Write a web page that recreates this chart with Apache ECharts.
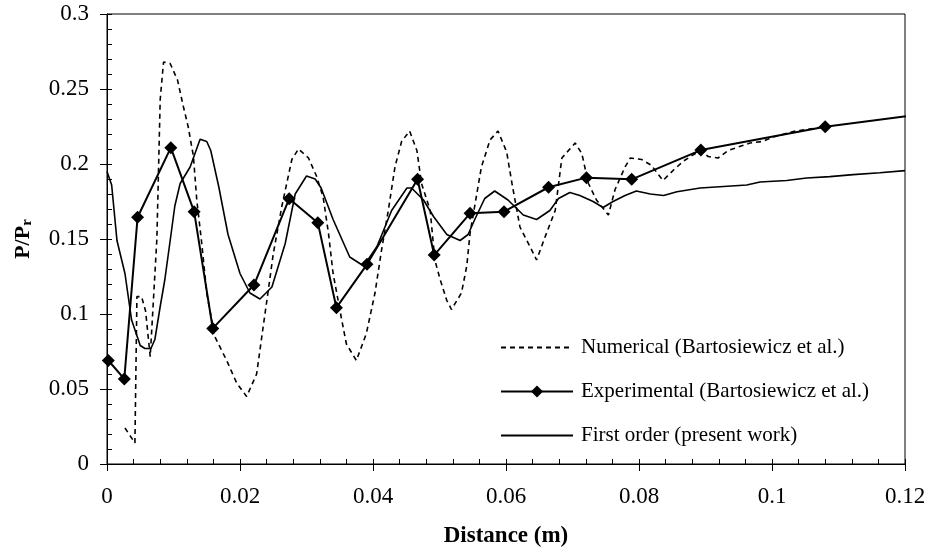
<!DOCTYPE html>
<html>
<head>
<meta charset="utf-8">
<script src="https://cdn.jsdelivr.net/npm/echarts@6/dist/echarts.min.js"></script>
<style>
    html, body { margin: 0; padding: 0; background: #fff; }
    #chart { width: 930px; height: 558px; }
</style>
</head>
<body>
<div id="chart"></div>
<script>
// numerical (Bartosiewicz et al.) - [distance, P/Pr]
var numerical = [
    [0.0027, 0.024], [0.0042, 0.014], [0.0045, 0.1116], [0.0052, 0.1116], [0.0058, 0.102],
    [0.0065, 0.0716], [0.0075, 0.15], [0.0080, 0.243], [0.0085, 0.268], [0.0095, 0.267],
    [0.0106, 0.256], [0.0115, 0.238], [0.0122, 0.225], [0.0130, 0.205], [0.0135, 0.176],
    [0.0142, 0.149], [0.0150, 0.114], [0.0162, 0.085], [0.0180, 0.069], [0.0195, 0.054],
    [0.0210, 0.045], [0.0225, 0.060], [0.0235, 0.092], [0.0242, 0.114], [0.0250, 0.140],
    [0.0263, 0.172], [0.0278, 0.203], [0.0288, 0.210], [0.0303, 0.204], [0.0315, 0.192],
    [0.0325, 0.178], [0.0333, 0.154], [0.0340, 0.127], [0.0353, 0.096], [0.0360, 0.080],
    [0.0375, 0.069], [0.0390, 0.087], [0.0403, 0.114], [0.0413, 0.143], [0.0423, 0.169],
    [0.0433, 0.198], [0.0443, 0.215], [0.0455, 0.222], [0.0466, 0.209], [0.0473, 0.187],
    [0.0486, 0.169], [0.0493, 0.136], [0.0501, 0.123], [0.0511, 0.109], [0.0518, 0.103],
    [0.0533, 0.114], [0.0541, 0.132], [0.0546, 0.154], [0.0563, 0.198], [0.0576, 0.216],
    [0.0588, 0.222], [0.0601, 0.208], [0.0609, 0.187], [0.0621, 0.158], [0.0636, 0.145],
    [0.0646, 0.136], [0.0661, 0.154], [0.0674, 0.169], [0.0684, 0.204], [0.0704, 0.214],
    [0.0714, 0.207], [0.0724, 0.187], [0.0736, 0.176], [0.0754, 0.166], [0.0764, 0.183],
    [0.0779, 0.198], [0.0787, 0.204], [0.0804, 0.203], [0.0819, 0.199], [0.0829, 0.193],
    [0.0836, 0.189], [0.0852, 0.196], [0.0867, 0.202], [0.0892, 0.209], [0.0904, 0.205],
    [0.0919, 0.204], [0.0934, 0.209], [0.0967, 0.214], [0.0985, 0.215], [0.1002, 0.218],
    [0.1035, 0.222], [0.1052, 0.223], [0.108, 0.225]
];

// experimental (Bartosiewicz et al.), last point lies past the axis end
var experimental = [
    [0.0002, 0.069], [0.0026, 0.0567], [0.0046, 0.1645], [0.0096, 0.2109], [0.0131, 0.1682],
    [0.0159, 0.0904], [0.0221, 0.1193], [0.0274, 0.1769], [0.0317, 0.1609], [0.0345, 0.1042],
    [0.0391, 0.1331], [0.0467, 0.1898], [0.0492, 0.1393], [0.0546, 0.1671], [0.0597, 0.1682],
    [0.0664, 0.1845], [0.0721, 0.1909], [0.0789, 0.1898], [0.0893, 0.2093], [0.1080, 0.2249],
    [0.1300, 0.2374]
];

// first order (present work)
var firstOrder = [
    [0, 0.195], [0.0007, 0.186], [0.0015, 0.149], [0.0027, 0.127], [0.0037, 0.096],
    [0.0050, 0.079], [0.0057, 0.077], [0.0066, 0.077], [0.0072, 0.083], [0.0080, 0.105],
    [0.0087, 0.123], [0.0095, 0.149], [0.0102, 0.172], [0.0110, 0.187], [0.0125, 0.198],
    [0.0140, 0.2165], [0.0150, 0.215], [0.0156, 0.209], [0.0168, 0.185], [0.0182, 0.153],
    [0.0200, 0.127], [0.0215, 0.114], [0.0230, 0.110], [0.0248, 0.118], [0.0268, 0.147],
    [0.0283, 0.180], [0.0300, 0.192], [0.0313, 0.190], [0.0322, 0.184], [0.0340, 0.163],
    [0.0365, 0.138], [0.0386, 0.132], [0.0406, 0.145], [0.0428, 0.169], [0.0451, 0.184],
    [0.0458, 0.184], [0.0476, 0.176], [0.0491, 0.165], [0.0511, 0.153], [0.0531, 0.149],
    [0.0543, 0.153], [0.0553, 0.163], [0.0568, 0.177], [0.0583, 0.182], [0.0603, 0.176],
    [0.0626, 0.166], [0.0646, 0.163], [0.0666, 0.169], [0.0679, 0.177], [0.0696, 0.181],
    [0.0711, 0.179], [0.0731, 0.175], [0.0746, 0.171], [0.0761, 0.175], [0.0779, 0.179],
    [0.0796, 0.182], [0.0817, 0.180], [0.0837, 0.179], [0.0857, 0.1815], [0.0892, 0.184],
    [0.0927, 0.185], [0.0962, 0.186], [0.0982, 0.188], [0.1022, 0.189], [0.1052, 0.1907],
    [0.1087, 0.1916], [0.1122, 0.1929], [0.1162, 0.1942], [0.1200, 0.1956]
];

var seriesNames = [
    'Numerical (Bartosiewicz et al.)',
    'Experimental (Bartosiewicz et al.)',
    'First order (present work)'
];

var FONT = '"Liberation Serif", "Times New Roman", serif';
var NO_MARK = { color: 'rgba(0,0,0,0)', borderColor: 'rgba(0,0,0,0)', borderWidth: 0 };

var chart = echarts.init(document.getElementById('chart'));

chart.setOption({
    animation: false,
    backgroundColor: '#fff',
    grid: {
        left: 107,
        right: 25,
        top: 14,
        bottom: 94,
        show: true,
        borderColor: '#000',
        borderWidth: 1,
        containLabel: false
    },
    legend: {
        orient: 'vertical',
        left: 500,
        top: 337,
        padding: 0,
        itemWidth: 72,
        itemHeight: 15,
        itemGap: 23,
        textStyle: {
            fontFamily: FONT,
            fontSize: 21,
            color: '#000',
            padding: [0, 0, 0, 3]
        },
        data: [
            { name: seriesNames[0], itemStyle: NO_MARK },
            { name: seriesNames[1] },
            { name: seriesNames[2], itemStyle: NO_MARK }
        ]
    },
    xAxis: [{
        type: 'value',
        min: 0,
        max: 0.12,
        interval: 0.02,
        position: 'bottom',
        name: 'Distance (m)',
        nameLocation: 'middle',
        nameGap: 61,
        nameTextStyle: {
            fontFamily: FONT,
            fontSize: 23,
            fontWeight: 'bold',
            color: '#000'
        },
        axisLine: { lineStyle: { color: '#000', width: 1 } },
        axisTick: { inside: false, length: 7, lineStyle: { color: '#000' } },
        axisLabel: {
            margin: 21,
            fontFamily: FONT,
            fontSize: 23,
            color: '#000'
        },
        splitLine: { show: false }
    }, {
        // inner ticks + minor ticks
        type: 'value',
        min: 0,
        max: 0.12,
        interval: 0.02,
        position: 'bottom',
        axisLine: { show: false },
        axisLabel: { show: false },
        axisTick: { inside: true, length: 5, lineStyle: { color: '#000' } },
        minorTick: { show: true, splitNumber: 5, length: 5, lineStyle: { color: '#000' } },
        splitLine: { show: false }
    }],
    yAxis: [{
        type: 'value',
        min: 0,
        max: 0.3,
        interval: 0.05,
        position: 'left',
        name: '{a|P/P}{s|r}',
        nameLocation: 'middle',
        nameRotate: 90,
        nameGap: 72,
        nameTextStyle: {
            rich: {
                a: { fontFamily: FONT, fontSize: 22, fontWeight: 'bold', color: '#000' },
                s: { fontFamily: FONT, fontSize: 15, fontWeight: 'bold', color: '#000', verticalAlign: 'bottom', padding: [9, 0, 0, 0] }
            }
        },
        axisLine: { lineStyle: { color: '#000', width: 1 } },
        axisTick: { inside: false, length: 7, lineStyle: { color: '#000' } },
        axisLabel: {
            margin: 18,
            fontFamily: FONT,
            fontSize: 23,
            color: '#000'
        },
        splitLine: { show: false }
    }, {
        type: 'value',
        min: 0,
        max: 0.3,
        interval: 0.05,
        position: 'left',
        axisLine: { show: false },
        axisLabel: { show: false },
        axisTick: { inside: true, length: 5, lineStyle: { color: '#000' } },
        minorTick: { show: true, splitNumber: 5, length: 5, lineStyle: { color: '#000' } },
        splitLine: { show: false }
    }],
    series: [{
        name: seriesNames[0],
        type: 'line',
        data: numerical,
        showSymbol: false,
        symbol: 'none',
        smooth: false,
        lineStyle: { color: '#000', width: 1.6, type: [5, 4] },
        itemStyle: { color: '#000' }
    }, {
        name: seriesNames[1],
        type: 'line',
        data: experimental,
        symbol: 'diamond',
        symbolSize: 13,
        smooth: false,
        clip: true,
        lineStyle: { color: '#000', width: 2 },
        itemStyle: { color: '#000' },
        z: 3
    }, {
        name: seriesNames[2],
        type: 'line',
        data: firstOrder,
        showSymbol: false,
        symbol: 'none',
        smooth: false,
        lineStyle: { color: '#000', width: 1.6 },
        itemStyle: { color: '#000' }
    }]
});
</script>
</body>
</html>
